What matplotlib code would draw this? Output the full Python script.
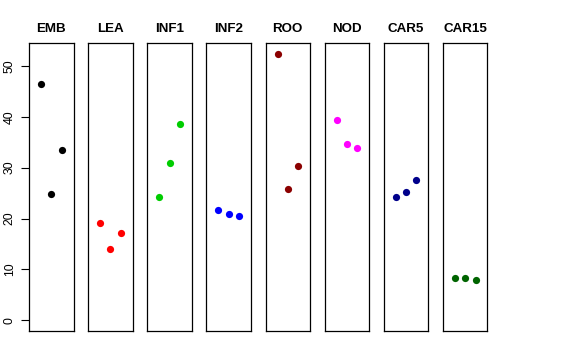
import numpy as np
import matplotlib
matplotlib.use("Agg")
import matplotlib.pyplot as plt

plt.rcParams['font.family'] = ['Liberation Sans', 'DejaVu Sans']

groups = ['EMB', 'LEA', 'INF1', 'INF2', 'ROO', 'NOD', 'CAR5', 'CAR15']
colors = ['black', 'red', '#00CD00', 'blue', '#8B0000', 'magenta', '#00008B', '#006400']
emb = [46.4, 24.8, 33.5]
lea = [19.2, 14.1, 17.1]
inf1 = [24.2, 30.9, 38.5]
inf2 = [21.6, 20.9, 20.5]
roo = [52.4, 25.9, 30.4]
nod = [39.3, 34.6, 33.9]
car5 = [24.2, 25.3, 27.6]
car15 = [8.4, 8.3, 7.9]
values = [emb, lea, inf1, inf2, roo, nod, car5, car15]
yticks = [0, 10, 20, 30, 40, 50]

W, H = 576, 360
fig = plt.figure(figsize=(W / 100, H / 100), dpi=100)

ymax = max(max(v) for v in values)
pad = 0.04 * ymax
for i, (g, vals, c) in enumerate(zip(groups, values, colors)):
    left = 29 + 59.14 * i
    ax = fig.add_axes([left / W, (H - 331) / H, 44.5 / W, 288 / H])
    ax.plot([1, 2, 3], vals, 'o', color=c, markersize=5.2, markeredgewidth=0)
    ax.set_xlim(-0.16, 4.16)
    ax.set_ylim(-pad, ymax + pad)
    ax.set_xticks([])
    for s in ax.spines.values():
        s.set_linewidth(0.9)
        s.set_color('black')
    ax.text(0.5, 1.047, g, transform=ax.transAxes, ha='center', va='center',
            fontsize=9.6, fontweight='bold')
    if i == 0:
        ax.set_yticks(yticks)
        ax.set_yticklabels([str(t) for t in yticks], rotation=90, va='center', fontsize=8.8)
        ax.tick_params(axis='y', direction='out', length=5.5, width=0.8, pad=4)
    else:
        ax.set_yticks([])

fig.savefig('out.png', dpi=100)
